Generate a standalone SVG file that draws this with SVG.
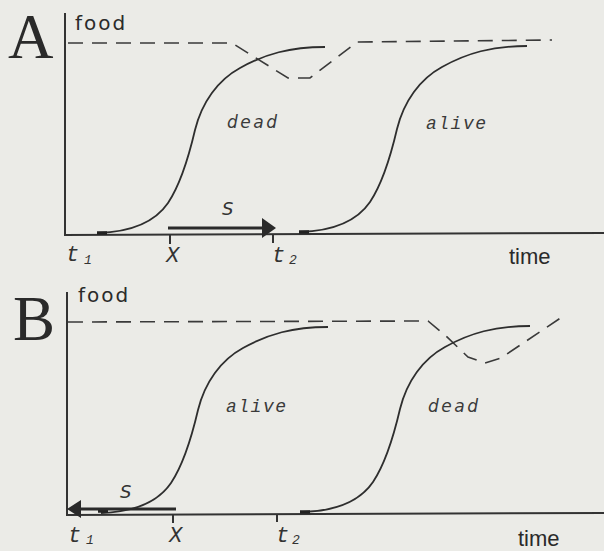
<svg xmlns="http://www.w3.org/2000/svg" width="604" height="551" viewBox="0 0 604 551">
<defs>
<style>
.bg{fill:#ebebe7}
.ax{stroke:#333;stroke-width:2;fill:none}
.cv{stroke:#2e2e2e;stroke-width:1.8;fill:none}
.blob{stroke:#222;stroke-width:3.5}
.dash{stroke:#3a3a3a;stroke-width:1.6;fill:none;stroke-dasharray:15 9}
.arr{stroke:#2a2a2a;stroke-width:3.2}
.head{fill:#2a2a2a}
.big{font-family:"Liberation Serif",serif;font-size:63px;fill:#2a2a2a}
.food{font-family:"DejaVu Sans",sans-serif;font-size:20px;letter-spacing:2px;fill:#2a2a2a}
.time{font-family:"Liberation Sans",Arial,sans-serif;font-size:22px;fill:#2a2a2a}
.sans-it{font-family:"DejaVu Sans",sans-serif;font-style:italic;font-size:17px;letter-spacing:2.5px;fill:#3a3a3a}
.mono-it{font-family:"Liberation Mono",monospace;font-style:italic;font-size:18px;letter-spacing:1.5px;fill:#3a3a3a}
.tl{font-family:"Liberation Mono",monospace;font-style:italic;font-size:22px;fill:#333}
.sub{font-family:"Liberation Mono",monospace;font-style:italic;font-size:13px;fill:#333}
.S{font-family:"DejaVu Sans",sans-serif;font-style:italic;font-size:18px;fill:#333}
</style>
<path id="sig" d="M98,233 C130,232 155,222 168,203 C180,185 188,160 195,130 C202,102 218,80 240,68 C265,54 290,47 325,47"/>
</defs>
<rect class="bg" x="0" y="0" width="604" height="551"/>

<g id="panelA">
  <text class="big" x="8" y="58">A</text>
  <g id="A-axes">
    <line class="ax" x1="65" y1="13" x2="65" y2="236"/>
    <line class="ax" x1="64" y1="235" x2="604" y2="233"/>
    <line class="ax" x1="170" y1="235" x2="170" y2="244"/>
    <line class="ax" x1="273" y1="234" x2="273" y2="243"/>
  </g>
  <text class="food" x="75" y="30">food</text>
  <text class="time" x="509" y="264">time</text>
  <g id="A-ticklabels">
    <text class="tl" x="66" y="261">t</text><text class="sub" x="84" y="264">1</text>
    <text class="tl" x="166" y="262">X</text>
    <text class="tl" x="272" y="262">t</text><text class="sub" x="289" y="264">2</text>
  </g>
  <g id="A-food-level">
    <path class="dash" d="M68,43 L232,43 L288,78 L310,78 L357,42 L552,40"/>
  </g>
  <g id="A-dead">
    <use href="#sig" class="cv"/>
    <line class="blob" x1="97" y1="233" x2="107" y2="233"/>
    <text class="sans-it" x="227" y="128">dead</text>
  </g>
  <g id="A-alive">
    <use href="#sig" class="cv" transform="translate(202,-1)"/>
    <line class="blob" x1="299" y1="232" x2="309" y2="232"/>
    <text class="mono-it" x="426" y="129">alive</text>
  </g>
  <g id="A-S">
    <line class="arr" x1="168" y1="228" x2="264" y2="228"/>
    <polygon class="head" points="276,228 262,218 262,238"/>
    <text class="S" x="222" y="215">S</text>
  </g>
</g>

<g id="panelB">
  <text class="big" x="13" y="340">B</text>
  <g id="B-axes">
    <line class="ax" x1="67" y1="292" x2="67" y2="516"/>
    <line class="ax" x1="66" y1="515" x2="604" y2="513"/>
    <line class="ax" x1="173" y1="515" x2="173" y2="523"/>
    <line class="ax" x1="277" y1="514" x2="277" y2="522"/>
  </g>
  <text class="food" x="78" y="302">food</text>
  <text class="time" x="518" y="546">time</text>
  <g id="B-ticklabels">
    <text class="tl" x="68" y="542">t</text><text class="sub" x="86" y="544">1</text>
    <text class="tl" x="169" y="542">X</text>
    <text class="tl" x="276" y="542">t</text><text class="sub" x="292" y="544">2</text>
  </g>
  <g id="B-food-level">
    <path class="dash" d="M68,322 L428,321 L446,336 L468,357 L485,363 L501,358 L562,317"/>
  </g>
  <g id="B-alive">
    <use href="#sig" class="cv" transform="translate(3,280)"/>
    <line class="blob" x1="98" y1="511" x2="108" y2="511"/>
    <text class="mono-it" x="226" y="412">alive</text>
  </g>
  <g id="B-dead">
    <use href="#sig" class="cv" transform="translate(205,279)"/>
    <line class="blob" x1="300" y1="512" x2="310" y2="512"/>
    <text class="sans-it" x="428" y="412">dead</text>
  </g>
  <g id="B-S">
    <line class="arr" x1="176" y1="509" x2="78" y2="509"/>
    <polygon class="head" points="67,509 81,500 81,518"/>
    <text class="S" x="120" y="498">S</text>
  </g>
</g>
</svg>
